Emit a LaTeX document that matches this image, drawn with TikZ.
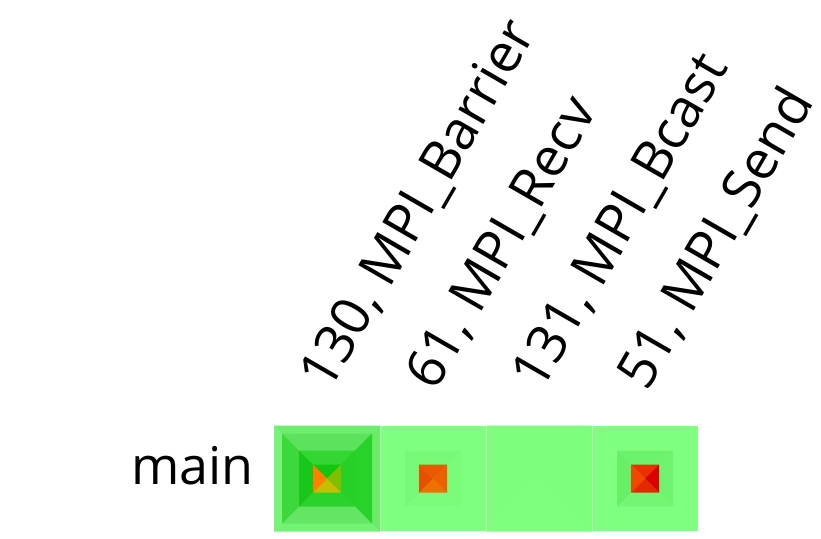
\documentclass[tikz,border=0pt]{standalone}
\usepackage{fontspec}
\setmainfont{Open Sans}
% colours of the cells
\definecolor{cellbg}{HTML}{80FF80}
\definecolor{cellsep}{HTML}{B8FFB8}
\definecolor{aoT}{HTML}{6EEE6E}\definecolor{aoR}{HTML}{6AEC6A}\definecolor{aoB}{HTML}{74F274}\definecolor{aoL}{HTML}{78F578}
\definecolor{amT}{HTML}{5CE25C}\definecolor{amR}{HTML}{28D228}\definecolor{amB}{HTML}{64E664}\definecolor{amL}{HTML}{3CD83C}
\definecolor{aiT}{HTML}{34D634}\definecolor{aiR}{HTML}{26D026}\definecolor{aiB}{HTML}{2CD22C}\definecolor{aiL}{HTML}{18C818}
\definecolor{acT}{HTML}{12C612}\definecolor{acR}{HTML}{80BE00}\definecolor{acB}{HTML}{C4C000}\definecolor{acL}{HTML}{FF8000}
\definecolor{bmT}{HTML}{7AF87A}\definecolor{bmR}{HTML}{7CFA7C}\definecolor{bmB}{HTML}{7CFB7C}\definecolor{bmL}{HTML}{78F778}
\definecolor{bcT}{HTML}{E85A00}\definecolor{bcR}{HTML}{EC6000}\definecolor{bcB}{HTML}{F07000}\definecolor{bcL}{HTML}{E85000}
\definecolor{cmT}{HTML}{7EFD7E}\definecolor{cmR}{HTML}{7DFC7D}\definecolor{cmB}{HTML}{7FFE7F}\definecolor{cmL}{HTML}{7EFD7E}
\definecolor{dmT}{HTML}{6CF26C}\definecolor{dmR}{HTML}{70F470}\definecolor{dmB}{HTML}{74F674}\definecolor{dmL}{HTML}{68EF68}
\definecolor{dcT}{HTML}{E83000}\definecolor{dcR}{HTML}{DC0000}\definecolor{dcB}{HTML}{E42800}\definecolor{dcL}{HTML}{F04800}
% square made of four triangles: centre x, centre y, half size, top, right, bottom, left
\newcommand{\pyr}[7]{%
  \fill[#4] ({#1-#3},{#2-#3}) -- ({#1+#3},{#2-#3}) -- (#1,#2) -- cycle;
  \fill[#5] ({#1+#3},{#2-#3}) -- ({#1+#3},{#2+#3}) -- (#1,#2) -- cycle;
  \fill[#6] ({#1+#3},{#2+#3}) -- ({#1-#3},{#2+#3}) -- (#1,#2) -- cycle;
  \fill[#7] ({#1-#3},{#2+#3}) -- ({#1-#3},{#2-#3}) -- (#1,#2) -- cycle;
}
\begin{document}
\begin{tikzpicture}[x=1pt,y=-1pt,
    lbl/.style={font=\fontsize{52}{60}\selectfont, inner sep=0pt},
    collbl/.style={inner sep=0pt, font=\fontsize{54}{62}\selectfont, rotate=60, anchor=base west}]
\useasboundingbox (0,0) rectangle (821,538);
% Background of the row
\fill[cellbg] (274,426) rectangle (698,531);
% First cell
\pyr{327}{478.5}{53}{aoT}{aoR}{aoB}{aoL}
\pyr{327}{478.5}{45}{amT}{amR}{amB}{amL}
\pyr{327}{478.5}{28}{aiT}{aiR}{aiB}{aiL}
\pyr{327}{478.5}{14}{acT}{acR}{acB}{acL}
% Second cell
\pyr{433}{478.5}{28}{bmT}{bmR}{bmB}{bmL}
\pyr{433}{478.5}{14}{bcT}{bcR}{bcB}{bcL}
% Third cell
\pyr{539}{478.5}{53}{cmT}{cmR}{cmB}{cmL}
% Fourth cell
\pyr{645}{478.5}{28}{dmT}{dmR}{dmB}{dmL}
\pyr{645}{478.5}{14}{dcT}{dcR}{dcB}{dcL}
% Lines between the cells
\foreach \x in {380,486,592}
  \draw[cellsep, line width=1pt] (\x,426) -- (\x,531);
% Row label
\node[lbl, anchor=base east] (main) at (254,484) {main};
% Column labels
\node[collbl] (barrier) at (329,393) {130, MPI\_Barrier};
\node[collbl] (recv) at (435,393) {61, MPI\_Recv};
\node[collbl] (bcast) at (541,393) {131, MPI\_Bcast};
\node[collbl] (send) at (647,393) {51, MPI\_Send};
\end{tikzpicture}
\end{document}
